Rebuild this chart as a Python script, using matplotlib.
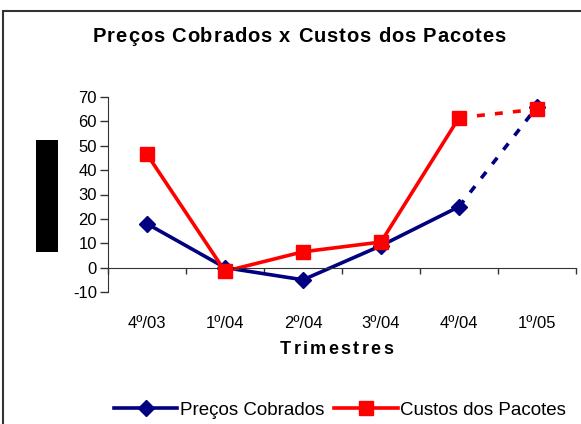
import matplotlib.pyplot as plt
import matplotlib.transforms as mtransforms
from matplotlib.lines import Line2D
from matplotlib.patches import Rectangle

plt.rcParams["font.family"] = ["Liberation Sans", "DejaVu Sans"]
plt.rcParams["axes.unicode_minus"] = False

trimestres = ["4º/03", "1º/04", "2º/04", "3º/04", "4º/04", "1º/05"]
precos = [18, 0, -5, 9, 25, 66]
custos = [46.5, -1.5, 6.5, 10.5, 61.5, 65]

BLUE = "#000080"
RED = "#FF0000"
W, H = 581, 424

fig = plt.figure(figsize=(W / 100, H / 100), dpi=100)
fig.patch.set_facecolor("white")

# outer frame (open to the right/bottom as in the original crop)
fig.add_artist(Rectangle((3 / W, -0.1), 1.2, 1 - 11 / H + 0.1, transform=fig.transFigure,
                         fill=False, edgecolor="#333333", linewidth=1.5))
# black block on the left
fig.add_artist(Rectangle((36 / W, 1 - 252 / H), 22 / W, 112 / H, transform=fig.transFigure,
                         facecolor="black", edgecolor="none"))

ax = fig.add_axes([108 / W, 1 - 292 / H, 468 / W, 195 / H])
x = list(range(len(trimestres)))

# solid part, then dashed last segment
ax.plot(x[:5], precos[:5], color=BLUE, lw=2.6)
ax.plot(x[4:], precos[4:], color=BLUE, lw=2.6, ls=(0, (2.2, 2.8)))
ax.plot(x[:5], custos[:5], color=RED, lw=2.6)
ax.plot(x[4:], custos[4:], color=RED, lw=2.6, ls=(0, (2.2, 2.8)))
ax.plot(x, precos, ls="none", marker="D", ms=8, color=BLUE, zorder=3)
ax.plot(x, custos, ls="none", marker="s", ms=9.5, color=RED, zorder=4)

ax.set_xlim(-0.5, len(trimestres) - 0.5)
ax.set_ylim(-10, 70)
ax.set_yticks(range(-10, 71, 10))
ax.tick_params(axis="y", direction="out", length=6, width=1, labelsize=12, pad=2,
               colors="#333333", labelcolor="black")

for s in ["top", "right"]:
    ax.spines[s].set_visible(False)
ax.spines["left"].set_color("#333333")
ax.spines["bottom"].set_position(("data", 0))
ax.spines["bottom"].set_color("#333333")
ax.set_xticks([i + 0.5 for i in range(-1, len(trimestres))])
ax.set_xticklabels([])
ax.tick_params(axis="x", direction="out", length=4, width=1, colors="#333333")

# category labels sit below the plot area
off = mtransforms.ScaledTranslation(0, -31 / 100, fig.dpi_scale_trans)
for i, lab in enumerate(trimestres):
    ax.text(i, -10, lab, ha="center", va="center", fontsize=12,
            transform=ax.transData + off)

renderer = fig.canvas.get_renderer()


def spaced_text(s, xc, yc, size, total_w):
    widths = []
    for ch in s:
        t = fig.text(0, 0, ch, fontsize=size, fontweight="bold")
        widths.append(t.get_window_extent(renderer).width if ch != " " else size * 0.28 * 100 / 72)
        t.remove()
    gap = (total_w - sum(widths)) / (len(s) - 1)
    xp = xc - total_w / 2
    for ch, w in zip(s, widths):
        fig.text(xp / W, 1 - yc / H, ch, fontsize=size, fontweight="bold", ha="left", va="center")
        xp += w + gap


spaced_text("Preços Cobrados x Custos dos Pacotes", 299, 36, 14.5, 413)
spaced_text("Trimestres", 336.5, 349, 13, 113)

handles = [Line2D([], [], color=BLUE, lw=2.6, marker="D", ms=8),
           Line2D([], [], color=RED, lw=2.6, marker="s", ms=9.5)]
fig.legend(handles, ["Preços Cobrados", "Custos dos Pacotes"], loc="center",
           bbox_to_anchor=(340 / W, 1 - 410 / H), ncol=2, frameon=False, fontsize=13.5,
           handlelength=3.4, handletextpad=0.15, columnspacing=0.5, borderpad=0)

fig.savefig("out.png", dpi=100)
